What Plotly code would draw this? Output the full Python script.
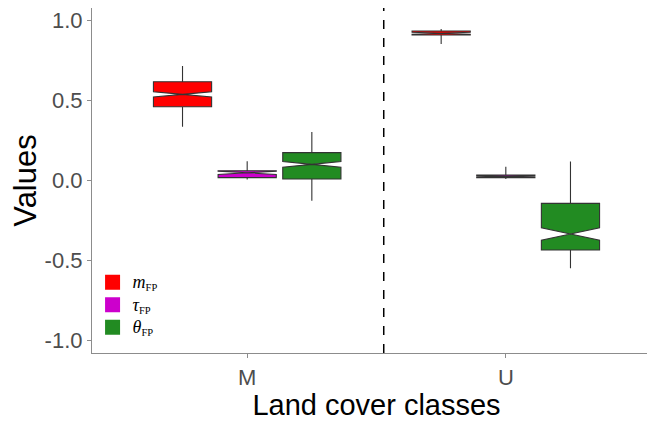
import plotly.graph_objects as go

categories = ["M", "U"]

series_names = [
    "<span style='font-size:18px'><i>m</i></span><sub>FP</sub>",
    "<span style='font-size:18px'><i>τ</i></span><sub>FP</sub>",
    "<span style='font-size:18px'><i>θ</i></span><sub>FP</sub>",
]
series_colors = ["#FF0000", "#CC00CC", "#228B22"]

m_q1 = [0.458, 0.906]
m_med = [0.535, 0.917]
m_q3 = [0.614, 0.931]
m_lo = [0.333, 0.850]
m_hi = [0.713, 0.944]
m_notch = [0.016, 0.006]

tau_q1 = [0.015, 0.015]
tau_med = [0.045, 0.023]
tau_q3 = [0.058, 0.031]
tau_lo = [0.004, 0.006]
tau_hi = [0.117, 0.083]
tau_notch = [0.010, 0.004]

theta_q1 = [0.006, -0.4375]
theta_med = [0.098, -0.3375]
theta_q3 = [0.171, -0.146]
theta_lo = [-0.129, -0.552]
theta_hi = [0.300, 0.115]
theta_notch = [0.018, 0.039]

divider_x = 0.528  # between the two classes, in category units

y_ticks = [-1.0, -0.5, 0.0, 0.5, 1.0]
y_ticktext = ["-1.0", "-0.5", "0.0", "0.5", "1.0"]

stats = [
    (m_q1, m_med, m_q3, m_lo, m_hi, m_notch),
    (tau_q1, tau_med, tau_q3, tau_lo, tau_hi, tau_notch),
    (theta_q1, theta_med, theta_q3, theta_lo, theta_hi, theta_notch),
]

fig = go.Figure()
for i, (q1, med, q3, lo, hi, nspan) in enumerate(stats):
    fig.add_trace(go.Box(
        x=categories, q1=q1, median=med, q3=q3, lowerfence=lo, upperfence=hi,
        notched=True, notchspan=nspan, notchwidth=0.5,
        fillcolor=series_colors[i], line=dict(color="#333333", width=1.1),
        whiskerwidth=0, boxpoints=False, offsetgroup=str(i),
        showlegend=False, name=series_names[i],
    ))
for i in range(3):
    fig.add_trace(go.Scatter(
        x=[None], y=[None], mode="markers", name=series_names[i],
        marker=dict(symbol="square", size=15, color=series_colors[i]),
        showlegend=True,
    ))

fig.add_shape(type="line", xref="x", yref="paper", x0=divider_x, x1=divider_x, y0=0, y1=1,
              line=dict(color="black", width=1.5, dash="dash"))

fig.update_layout(
    width=655, height=424,
    margin=dict(l=84, r=2, t=0, b=79),
    paper_bgcolor="white", plot_bgcolor="white",
    boxmode="group", boxgap=0.25, boxgroupgap=0.1,
    font=dict(family="Liberation Sans, Arial, sans-serif"),
    legend=dict(x=0.001, y=0.252, xanchor="left", yanchor="top",
                bgcolor="rgba(0,0,0,0)", itemsizing="trace",
                font=dict(family="Liberation Serif, DejaVu Serif, serif", size=15, color="black"),
                tracegroupgap=0),
    xaxis=dict(
        range=[-0.6, 1.6], showline=True, mirror=True, linecolor="#8C8C8C", linewidth=1.2,
        ticks="outside", ticklen=4, tickcolor="#8C8C8C", showgrid=False, zeroline=False,
        tickfont=dict(size=22, color="#4D4D4D"), automargin=False, ticklabeloverflow="allow",
        title=dict(text="Land cover classes", font=dict(size=29, color="black"), standoff=6),
    ),
    yaxis=dict(
        range=[-1.081, 1.075], tickvals=y_ticks, ticktext=y_ticktext,
        showline=True, mirror=True, linecolor="#8C8C8C", linewidth=1.2,
        ticks="outside", ticklen=4, tickcolor="#8C8C8C", showgrid=False, zeroline=False,
        tickfont=dict(size=22, color="#4D4D4D"), automargin=False, ticklabeloverflow="allow",
        title=dict(text="Values", font=dict(size=31, color="black"), standoff=6),
    ),
)

fig.write_html("out.html")
